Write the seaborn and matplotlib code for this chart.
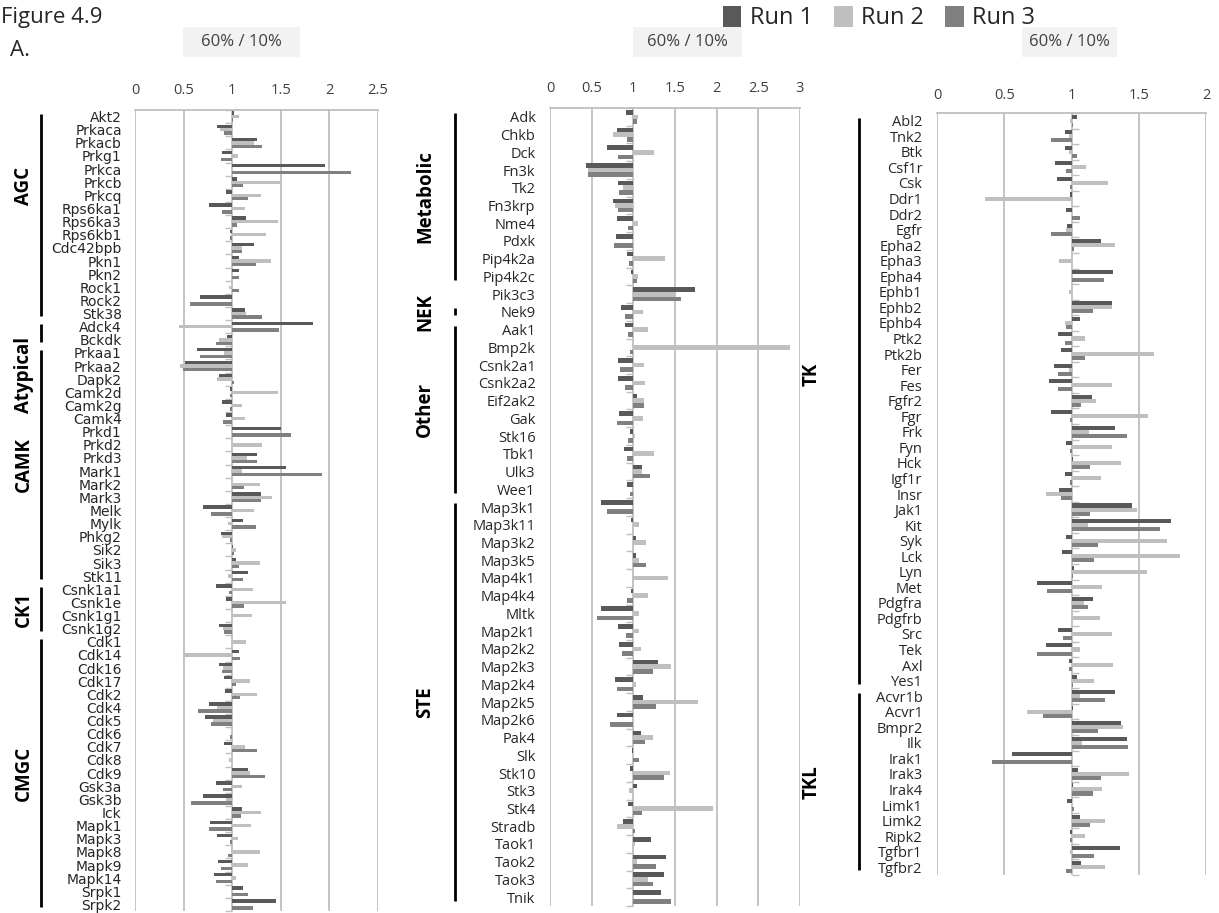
import numpy as np
import pandas as pd
import matplotlib
matplotlib.use("Agg")
import matplotlib.pyplot as plt
import seaborn as sns
from matplotlib.ticker import FuncFormatter, FixedLocator, NullFormatter
from matplotlib.transforms import blended_transform_factory
from matplotlib.patches import Rectangle, Patch

# ---------------- data ----------------
runs = ["Run 1", "Run 2", "Run 3"]

names1 = ["Akt2", "Prkaca", "Prkacb", "Prkg1", "Prkca", "Prkcb", "Prkcq", "Rps6ka1", "Rps6ka3",
          "Rps6kb1", "Cdc42bpb", "Pkn1", "Pkn2", "Rock1", "Rock2", "Stk38", "Adck4", "Bckdk",
          "Prkaa1", "Prkaa2", "Dapk2", "Camk2d", "Camk2g", "Camk4", "Prkd1", "Prkd2", "Prkd3",
          "Mark1", "Mark2", "Mark3", "Melk", "Mylk", "Phkg2", "Sik2", "Sik3", "Stk11", "Csnk1a1",
          "Csnk1e", "Csnk1g1", "Csnk1g2", "Cdk1", "Cdk14", "Cdk16", "Cdk17", "Cdk2", "Cdk4", "Cdk5",
          "Cdk6", "Cdk7", "Cdk8", "Cdk9", "Gsk3a", "Gsk3b", "Ick", "Mapk1", "Mapk3", "Mapk8", "Mapk9",
          "Mapk14", "Srpk1", "Srpk2"]
run1_p1 = [1.02, 0.84, 1.25, 0.89, 1.95, 1.05, 0.94, 0.76, 1.14, 0.98, 1.22, 1.07, 1.07, 1.00, 0.67,
           1.13, 1.83, 0.95, 0.64, 0.51, 0.86, 0.98, 0.90, 0.94, 1.50, 1.00, 1.26, 1.55, 1.00, 1.30,
           0.70, 1.11, 0.88, 1.01, 1.04, 1.16, 0.83, 0.94, 1.00, 0.86, 1.00, 1.07, 0.86, 0.92, 0.93,
           0.76, 0.72, 1.00, 0.92, 1.00, 1.16, 0.83, 0.70, 1.10, 0.77, 0.84, 1.00, 0.85, 0.81, 1.11,
           1.45]
run2_p1 = [1.07, 0.87, 1.22, 1.06, 0.99, 1.49, 1.30, 1.13, 1.47, 1.35, 1.10, 1.40, 1.00, 0.97, 0.99,
           1.14, 0.45, 0.86, 0.92, 0.46, 0.84, 1.47, 1.10, 1.13, 1.00, 1.31, 1.15, 1.10, 1.29, 1.41,
           1.22, 0.96, 0.89, 1.04, 1.29, 0.96, 1.21, 1.55, 1.20, 0.91, 1.14, 0.49, 0.91, 1.18, 1.25,
           0.84, 0.80, 0.99, 1.13, 0.97, 1.18, 1.10, 0.94, 1.30, 1.19, 1.06, 1.29, 1.16, 1.04, 1.00,
           1.00]
run3_p1 = [1.01, 0.92, 1.31, 0.88, 2.22, 1.11, 1.16, 0.90, 1.05, 0.98, 1.10, 1.24, 1.07, 1.07, 0.57,
           1.31, 1.48, 0.83, 0.67, 0.49, 1.02, 0.98, 0.98, 0.91, 1.61, 1.00, 1.26, 1.92, 1.12, 1.30,
           0.78, 1.24, 0.98, 1.02, 1.07, 1.11, 0.97, 1.12, 1.00, 0.92, 1.00, 1.08, 0.89, 1.04, 1.08,
           0.65, 0.78, 0.98, 1.25, 1.00, 1.34, 0.91, 0.58, 1.09, 0.76, 0.98, 0.96, 0.88, 0.83, 1.16,
           1.21]
groups1 = [("AGC", "Akt2", "Stk38"), ("Atypical", "Adck4", "Bckdk"), ("CAMK", "Prkaa1", "Stk11"),
           ("CK1", "Csnk1a1", "Csnk1g2"), ("CMGC", "Cdk1", "Srpk2")]

names2 = ["Adk", "Chkb", "Dck", "Fn3k", "Tk2", "Fn3krp", "Nme4", "Pdxk", "Pip4k2a", "Pip4k2c",
          "Pik3c3", "Nek9", "Aak1", "Bmp2k", "Csnk2a1", "Csnk2a2", "Eif2ak2", "Gak", "Stk16", "Tbk1",
          "Ulk3", "Wee1", "Map3k1", "Map3k11", "Map3k2", "Map3k5", "Map4k1", "Map4k4", "Mltk",
          "Map2k1", "Map2k2", "Map2k3", "Map2k4", "Map2k5", "Map2k6", "Pak4", "Slk", "Stk10", "Stk3",
          "Stk4", "Stradb", "Taok1", "Taok2", "Taok3", "Tnik"]
run1_p2 = [0.91, 0.80, 0.68, 0.43, 0.82, 0.76, 0.80, 0.79, 0.92, 0.97, 1.74, 0.85, 0.90, 1.00, 0.82,
           0.82, 1.04, 0.83, 0.96, 0.89, 1.10, 0.92, 0.61, 0.97, 1.03, 1.03, 1.00, 0.97, 0.61, 0.81,
           0.83, 1.30, 0.78, 1.11, 0.80, 1.09, 0.98, 0.96, 1.04, 0.94, 0.88, 1.21, 1.39, 1.37, 1.33]
run2_p2 = [1.06, 0.75, 1.25, 0.46, 0.87, 0.78, 1.05, 1.00, 1.38, 1.06, 1.50, 1.11, 1.17, 2.88, 1.13,
           1.14, 1.13, 1.11, 1.02, 1.25, 1.10, 1.00, 1.00, 1.07, 1.15, 1.07, 1.42, 1.17, 1.07, 1.07,
           1.09, 1.45, 1.03, 1.77, 1.00, 1.23, 1.00, 1.44, 0.95, 1.96, 0.80, 1.02, 1.04, 1.18, 1.00]
run3_p2 = [1.04, 0.92, 0.82, 0.46, 0.83, 0.81, 0.93, 0.77, 0.95, 1.04, 1.57, 0.90, 0.94, 0.96, 0.84,
           0.90, 1.13, 0.80, 0.94, 0.92, 1.20, 0.96, 0.68, 1.00, 1.00, 1.15, 1.00, 0.92, 0.56, 0.91,
           0.86, 1.23, 0.80, 1.27, 0.72, 1.14, 1.07, 1.37, 1.00, 1.10, 1.02, 1.00, 1.27, 1.23, 1.45]
groups2 = [("Metabolic", "Adk", "Pip4k2c"), ("NEK", "Nek9", "Nek9"), ("Other", "Aak1", "Wee1"),
           ("STE", "Map3k1", "Tnik")]

names3 = ["Abl2", "Tnk2", "Btk", "Csf1r", "Csk", "Ddr1", "Ddr2", "Egfr", "Epha2", "Epha3", "Epha4",
          "Ephb1", "Ephb2", "Ephb4", "Ptk2", "Ptk2b", "Fer", "Fes", "Fgfr2", "Fgr", "Frk", "Fyn", "Hck",
          "Igf1r", "Insr", "Jak1", "Kit", "Syk", "Lck", "Lyn", "Met", "Pdgfra", "Pdgfrb", "Src", "Tek",
          "Axl", "Yes1", "Acvr1b", "Acvr1", "Bmpr2", "Ilk", "Irak1", "Irak3", "Irak4", "Limk1", "Limk2",
          "Ripk2", "Tgfbr1", "Tgfbr2"]
run1_p3 = [1.04, 0.95, 0.95, 0.88, 0.89, 0.99, 0.96, 0.97, 1.22, 1.00, 1.31, 1.00, 1.30, 1.06, 0.90,
           0.92, 0.87, 0.83, 1.15, 0.85, 1.32, 0.96, 1.01, 0.95, 0.91, 1.45, 1.74, 0.96, 0.93, 1.02,
           0.74, 1.16, 1.00, 0.90, 0.81, 0.98, 1.04, 1.32, 1.01, 1.37, 1.41, 0.56, 1.05, 1.01, 0.97,
           1.06, 0.99, 1.36, 1.07]
run2_p3 = [0.99, 0.98, 0.98, 1.11, 1.27, 0.36, 1.00, 0.96, 1.32, 0.91, 1.00, 0.98, 1.30, 0.95, 1.10,
           1.61, 0.98, 1.30, 1.18, 1.57, 1.13, 1.30, 1.37, 1.22, 0.81, 1.49, 1.12, 1.71, 1.81, 1.56,
           1.23, 1.09, 1.21, 1.30, 1.06, 1.31, 1.17, 1.06, 0.67, 1.38, 1.08, 1.00, 1.43, 1.23, 1.00,
           1.25, 1.10, 0.99, 1.25]
run3_p3 = [1.01, 0.85, 1.04, 0.96, 0.99, 1.00, 1.06, 0.85, 1.02, 1.00, 1.24, 1.00, 1.16, 0.96, 0.95,
           1.10, 0.90, 0.90, 1.07, 0.99, 1.41, 0.99, 1.14, 0.99, 0.92, 1.14, 1.66, 1.20, 1.17, 1.01,
           0.82, 1.12, 1.00, 0.94, 0.74, 0.98, 1.01, 1.25, 0.79, 1.20, 1.42, 0.41, 1.22, 1.16, 1.02,
           1.14, 0.99, 1.17, 0.96]
groups3 = [("TK", "Abl2", "Yes1"), ("TKL", "Acvr1b", "Tgfbr2")]

panel_title = "60% / 10%"
x_max = [2.5, 3.0, 2.0]

# ---------------- style ----------------
W, H = 1219, 913
sns.set_theme(style="white")
plt.rcParams["font.family"] = ["Open Sans", "DejaVu Sans"]
palette = {"Run 1": "#595959", "Run 2": "#bfbfbf", "Run 3": "#808080"}
grid_c = "#bfbfbf"
txt_c = "#262626"

fig = plt.figure(figsize=(W / 100, H / 100), dpi=100)


def fx(px):
    return px / W


def fy(py):
    return 1 - py / H


# layout in pixels: (left, right, top, bottom)
rects = [(135, 378, 110, 911), (550, 800, 108, 906), (937, 1206, 113, 875)]
title_boxes = [(183, 300), (633, 742), (1022, 1117)]
xtick_pad = [8.5, 8.5, 7.0]
bracket_x = [41, 455, 859]
grouptext_x = [24, 425, 812]
grouptext_shift = [{"AGC": -2.2, "Atypical": 3.2}, {}, {"TK": -1.7}]
ylab_pad = [9.5, 10.5, 10.5]
ylab_fs = [10.0, 10.5, 10.5]
ylab_family = [["DejaVu Sans"], ["Open Sans", "DejaVu Sans"], ["Open Sans", "DejaVu Sans"]]

panels = [(names1, run1_p1, run2_p1, run3_p1, groups1),
          (names2, run1_p2, run2_p2, run3_p2, groups2),
          (names3, run1_p3, run2_p3, run3_p3, groups3)]

for k, (names, r1, r2, r3, groups) in enumerate(panels):
    n = len(names)
    df = pd.DataFrame({
        "kinase": names * 3,
        "run": ["Run 1"] * n + ["Run 2"] * n + ["Run 3"] * n,
        "value": list(r1) + list(r2) + list(r3),
    })
    df["dev"] = df["value"] - 1.0
    l, r, t, b = rects[k]
    ax = fig.add_axes([fx(l), fy(b), fx(r - l), (b - t) / H])
    sns.barplot(data=df, x="dev", y="kinase", hue="run", order=names, hue_order=runs,
                orient="h", palette=palette, width=0.78, errorbar=None, linewidth=0,
                saturation=1, legend=False, ax=ax)
    xm = x_max[k]
    ax.set_xlim(-1, xm - 1)
    ax.set_ylim(n - 0.5, -0.5)
    ticks = np.arange(0, xm + 0.01, 0.5) - 1
    ax.xaxis.set_major_locator(FixedLocator(ticks))
    ax.xaxis.set_major_formatter(FuncFormatter(lambda v, p: f"{v + 1:g}"))
    ax.xaxis.tick_top()
    ax.tick_params(axis="x", length=0, pad=xtick_pad[k], labelsize=10.5, labelcolor="#404040")
    ax.tick_params(axis="y", length=0, pad=ylab_pad[k], labelsize=ylab_fs[k], labelcolor=txt_c)
    for lab in ax.get_yticklabels():
        lab.set_fontfamily(ylab_family[k])
    ax.set_xlabel("")
    ax.set_ylabel("")
    ax.set_axisbelow(True)
    ax.grid(axis="x", color=grid_c, lw=1.3)
    ax.grid(axis="y", visible=False)
    for s in ["left", "right", "bottom"]:
        ax.spines[s].set_visible(False)
    ax.spines["top"].set_color(grid_c)
    ax.spines["top"].set_linewidth(1.3)
    ax.patch.set_alpha(0)

    # category tick marks on the axis crossing at 1
    sec = ax.secondary_yaxis(1.0 / xm)
    sec.set_yticks(np.arange(n + 1) - 0.5)
    sec.yaxis.set_major_formatter(NullFormatter())
    sec.tick_params(axis="y", length=5, width=1, direction="out", color=grid_c)
    for s in sec.spines.values():
        s.set_visible(False)

    # group brackets and labels
    tr = blended_transform_factory(fig.transFigure, ax.transData)
    for name, first, last in groups:
        i0, i1 = names.index(first), names.index(last)
        y0, y1 = i0 - 0.2, i1 + 0.2
        ax.plot([fx(bracket_x[k])] * 2, [y0, y1], transform=tr, clip_on=False,
                color="black", lw=2, solid_capstyle="butt")
        yc = (y0 + y1) / 2 + grouptext_shift[k].get(name, 0)
        ax.text(fx(grouptext_x[k]), yc, name, transform=tr, rotation=90, ha="center",
                va="center", fontsize=13.5, fontweight="bold", color="black", clip_on=False)

    # panel title box
    bx0, bx1 = title_boxes[k]
    fig.patches.append(Rectangle((fx(bx0), fy(57)), fx(bx1 - bx0), 30 / H,
                                 transform=fig.transFigure, facecolor="#f2f2f2",
                                 edgecolor="none", zorder=0))
    fig.text(fx((bx0 + bx1) / 2), fy(42), panel_title, ha="center", va="center",
             fontsize=12, color="#404040")

fig.text(fx(1), fy(17), "Figure 4.9", ha="left", va="center", fontsize=16, color=txt_c)
fig.text(fx(10), fy(50), "A.", ha="left", va="center", fontsize=16, color=txt_c)

handles = [Patch(facecolor=palette[r_], edgecolor="none") for r_ in runs]
fig.legend(handles, runs, loc="center", bbox_to_anchor=(fx(879), fy(18)), ncol=3,
           frameon=False, fontsize=17, handlelength=0.8, handleheight=1.0,
           handletextpad=0.35, columnspacing=0.9, labelcolor=txt_c)

fig.savefig("out.png", dpi=100)
